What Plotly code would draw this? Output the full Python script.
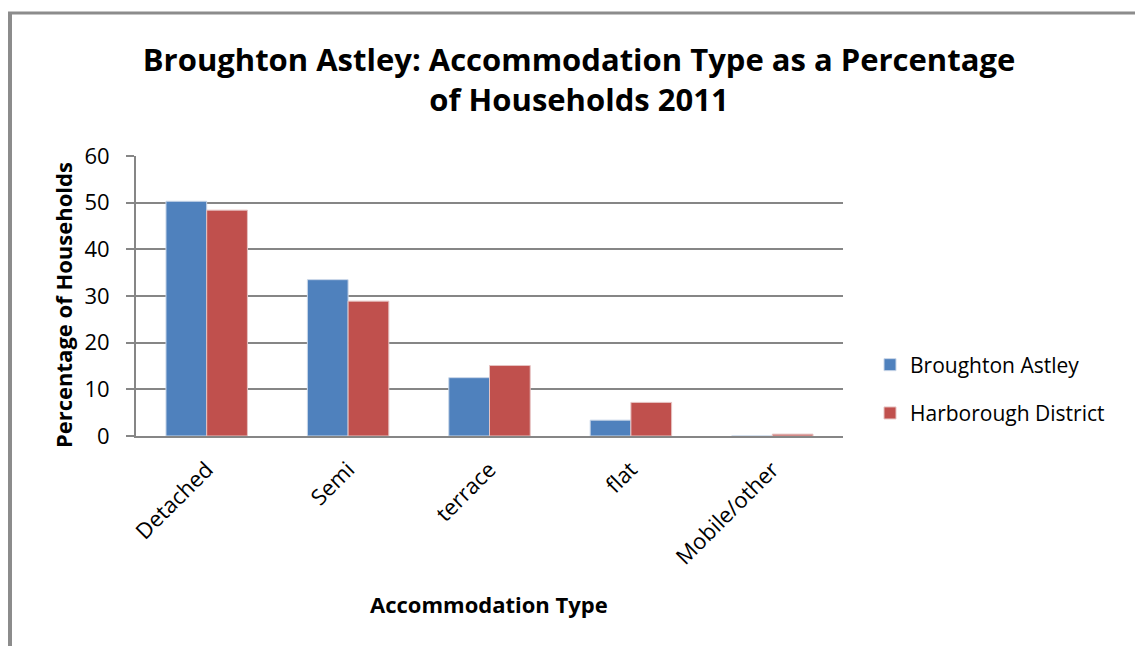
import plotly.graph_objects as go

# Accommodation type shares (% of households), 2011 census
categories = ["Detached", "Semi", "terrace", "flat", "Mobile/other"]
broughton_astley = [50.3, 33.5, 12.5, 3.4, 0.0]
harborough_district = [48.4, 28.9, 15.1, 7.2, 0.4]
y_ticks = [0, 10, 20, 30, 40, 50, 60]

W, H = 1135, 646
L, R, T, B = 136, 292, 156, 210
FONT = "'Open Sans', Lato, sans-serif"

fig = go.Figure()
fig.add_trace(go.Bar(
    x=categories, y=broughton_astley, name="Broughton Astley",
    marker=dict(color="#4F81BD", line=dict(color="#c9d6e8", width=1)),
    legendgroup="a",
))
fig.add_trace(go.Bar(
    x=categories, y=harborough_district, name="Harborough District",
    marker=dict(color="#C0504D", line=dict(color="#e6c3c2", width=1)),
    legendgroup="b",
))

# outer chart frame (left and top edges)
pw = W - L - R
ph = H - T - B
def px_x(v):
    return (v - L) / pw
def px_y(v):
    return 1 - (v - T) / ph

fig.add_shape(type="line", xref="paper", yref="paper",
              x0=px_x(10), x1=px_x(10), y0=px_y(13), y1=px_y(H + 5),
              line=dict(color="#8c8c8c", width=4))
fig.add_shape(type="line", xref="paper", yref="paper",
              x0=px_x(8), x1=px_x(W + 5), y0=px_y(13), y1=px_y(13),
              line=dict(color="#8c8c8c", width=3))

# axis titles
fig.add_annotation(
    text="<b>Accommodation Type</b>", xref="paper", yref="paper",
    x=px_x(489), y=px_y(604), xanchor="center", yanchor="middle",
    showarrow=False, font=dict(family=FONT, size=22, color="black"),
)
fig.add_annotation(
    text="<b>Percentage of Households</b>", xref="paper", yref="paper",
    x=px_x(63), y=px_y(305), xanchor="center", yanchor="middle",
    textangle=-90, showarrow=False,
    font=dict(family=FONT, size=22, color="black"),
)

fig.update_layout(
    width=W, height=H,
    margin=dict(l=L, r=R, t=T, b=B),
    paper_bgcolor="white", plot_bgcolor="white",
    font=dict(family=FONT, color="black", size=21),
    title=dict(
        text="<b>Broughton Astley: Accommodation Type as a Percentage<br>of Households 2011</b>",
        x=579 / W, xanchor="center", xref="container",
        y=1 - 71 / H, yanchor="middle", yref="container",
        font=dict(family=FONT, size=31, color="black"),
    ),
    barmode="group", bargap=0.424, bargroupgap=0,
    showlegend=True,
    legend=dict(
        x=(870 - L) / pw, xanchor="left", y=px_y(389), yanchor="middle",
        font=dict(family=FONT, size=21, color="black"),
        traceorder="grouped", tracegroupgap=18,
        itemwidth=30, bgcolor="rgba(0,0,0,0)",
    ),
    xaxis=dict(
        tickangle=-45, showgrid=False,
        showline=True, linecolor="#868686", linewidth=2,
        ticks="", tickfont=dict(size=22), ticklabelstandoff=10,
    ),
    yaxis=dict(
        range=[0, 60], tickvals=y_ticks, ticktext=[str(v) for v in y_ticks],
        showgrid=True, gridcolor="#868686", gridwidth=2,
        showline=True, linecolor="#868686", linewidth=2,
        ticks="outside", ticklen=8, tickcolor="#868686", tickwidth=2,
        tickfont=dict(size=22), zeroline=False, ticklabelstandoff=12,
    ),
)

fig.write_html("out.html")
